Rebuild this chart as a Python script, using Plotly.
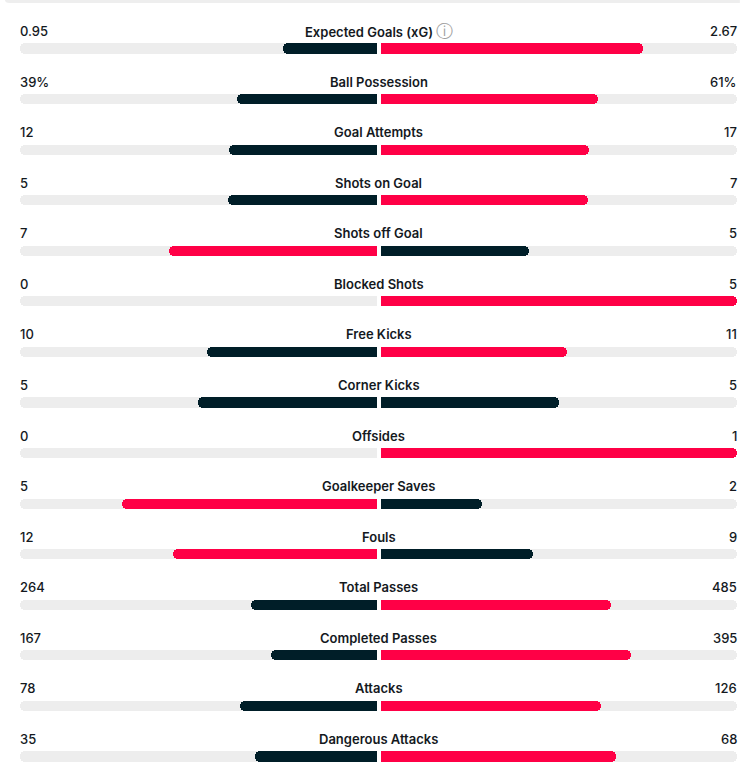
"""
Match statistics comparison (home vs away) as mirrored horizontal bars.
"""

import plotly.graph_objects as go

STATS = [
    "Expected Goals (xG)",
    "Ball Possession",
    "Goal Attempts",
    "Shots on Goal",
    "Shots off Goal",
    "Blocked Shots",
    "Free Kicks",
    "Corner Kicks",
    "Offsides",
    "Goalkeeper Saves",
    "Fouls",
    "Total Passes",
    "Completed Passes",
    "Attacks",
    "Dangerous Attacks",
]
HOME = [0.95, 39, 12, 5, 7, 0, 10, 5, 0, 5, 12, 264, 167, 78, 35]
AWAY = [2.67, 61, 17, 7, 5, 5, 11, 5, 1, 2, 9, 485, 395, 126, 68]
SUFFIX = ["", "%", "", "", "", "", "", "", "", "", "", "", "", "", ""]

RED = "#ff0046"
DARK = "#001e28"
TRACK = "#ededed"
TEXT = "#14191e"
GAP = 0.0056  # half of the centre gap, in bar units
CAP = 0.02


def fmt(v, suffix):
    s = f"{v:g}" if isinstance(v, float) else str(v)
    return s + suffix


def build_fig():
    rows = list(range(len(STATS)))
    home_frac, away_frac, home_col, away_col = [], [], [], []
    for h, a in zip(HOME, AWAY):
        total = h + a
        home_frac.append(h / total if total else 0)
        away_frac.append(a / total if total else 0)
        home_col.append(RED if h > a else DARK)
        away_col.append(RED if a > h else DARK)

    bar_w = 0.2
    fig = go.Figure()

    def add_bar(x, base, color, radius):
        fig.add_trace(go.Bar(
            x=x, y=rows, base=base, orientation="h", width=bar_w,
            marker=dict(color=color, cornerradius=radius, line=dict(width=0)),
            hoverinfo="skip", showlegend=False,
        ))

    n = len(rows)
    # grey tracks
    add_bar([-1] * n, [-GAP] * n, TRACK, 5)
    add_bar([1] * n, [GAP] * n, TRACK, 5)
    add_bar([-CAP] * n, [-GAP] * n, TRACK, 0)
    add_bar([CAP] * n, [GAP] * n, TRACK, 0)
    # filled parts
    add_bar([-f for f in home_frac], [-GAP] * n, home_col, 5)
    add_bar(away_frac, [GAP] * n, away_col, 5)
    add_bar([-min(f, CAP) for f in home_frac], [-GAP] * n, home_col, 0)
    add_bar([min(f, CAP) for f in away_frac], [GAP] * n, away_col, 0)

    text_dy = 0.346
    for i, name in enumerate(STATS):
        label = name
        if i == 0:
            label = (name + " <span style='color:#a0a0a0;font-size:17px;"
                     "font-weight:400'>ⓘ</span>")
        fig.add_annotation(
            x=0, y=i - text_dy, text=label, showarrow=False,
            xanchor="center", yanchor="middle",
            font=dict(size=13, color=TEXT, weight=600),
        )
        fig.add_annotation(
            x=-1 - GAP, y=i - text_dy, text=fmt(HOME[i], SUFFIX[i]),
            showarrow=False, xanchor="left", yanchor="middle", xshift=-2,
            font=dict(size=13, color=TEXT, weight=500),
        )
        fig.add_annotation(
            x=1 + GAP, y=i - text_dy, text=fmt(AWAY[i], SUFFIX[i]),
            showarrow=False, xanchor="right", yanchor="middle", xshift=2,
            font=dict(size=13, color=TEXT, weight=500),
        )

    # bottom edge of the card above
    fig.add_shape(
        type="path", xref="paper", yref="paper",
        path="M -0.021 1 L 1.004 1 L 1.004 0.9961 L -0.014 0.9961 Q -0.021 0.9961 -0.021 1 Z",
        fillcolor="#eeeeee", line=dict(width=0), layer="below",
    )

    fig.update_layout(
        width=747,
        height=776,
        margin=dict(l=20, r=10, t=0, b=0),
        barmode="overlay",
        bargap=0,
        plot_bgcolor="white",
        paper_bgcolor="white",
        font=dict(family="Inter, Roboto, sans-serif"),
        xaxis=dict(range=[-1 - GAP, 1 + GAP], visible=False, fixedrange=True),
        yaxis=dict(range=[14.386, -0.959], visible=False, fixedrange=True),
        showlegend=False,
    )
    return fig


def main():
    fig = build_fig()
    fig.write_html(
        "out.html",
        config={"displayModeBar": False},
        post_script="document.body.style.margin='0';",
    )


if __name__ == "__main__":
    main()
